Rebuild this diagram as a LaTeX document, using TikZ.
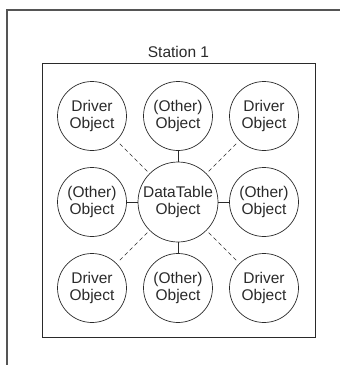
\documentclass[tikz,border=0pt]{standalone}
\usepackage{fontspec}
\setmainfont{Liberation Sans}
\usepackage{tikz}
\usetikzlibrary{positioning}
\definecolor{inkgray}{HTML}{2A2A2A}
\definecolor{framegray}{HTML}{555555}

\begin{document}
\begin{tikzpicture}[x=1pt, y=-1pt, inkgray,
  obj/.style={circle, draw, line width=0.7pt, minimum size=69pt, inner sep=0pt, align=center, font=\fontsize{15.5}{17.5}\selectfont},
  link/.style={line width=0.7pt},
  weak/.style={line width=0.6pt, dashed, dash pattern=on 4pt off 3pt, shorten >=3pt, shorten <=3pt}]
\useasboundingbox (0,0) rectangle (340,365);
% outer frame (only left and top edges show)
\draw[framegray, line width=1.6pt] (7,365) -- (7,10) -- (340,10);
% station box
\node (station) [draw, line width=0.7pt, minimum width=273pt, minimum height=274pt, inner sep=0pt] at (178.5,200) {};
\node[above=1pt of station.north, font=\fontsize{15.5}{17.5}\selectfont] {Station 1};
% objects
\node[obj, minimum size=80pt] (dt) at (178,202) {DataTable\\Object};
\node[obj] (tl) at (92,116) {Driver\\Object};
\node[obj] (tm) at (178,116) {(Other)\\Object};
\node[obj] (tr) at (264,116) {Driver\\Object};
\node[obj] (ml) at (92,202) {(Other)\\Object};
\node[obj] (mr) at (264,202) {(Other)\\Object};
\node[obj] (bl) at (92,288) {Driver\\Object};
\node[obj] (bm) at (178,288) {(Other)\\Object};
\node[obj] (br) at (264,288) {Driver\\Object};
% connectors
\foreach \n in {tm,ml,mr,bm} \draw[link] (dt) -- (\n);
\foreach \n in {tl,tr,bl,br} \draw[weak] (dt) -- (\n);
\end{tikzpicture}
\end{document}
